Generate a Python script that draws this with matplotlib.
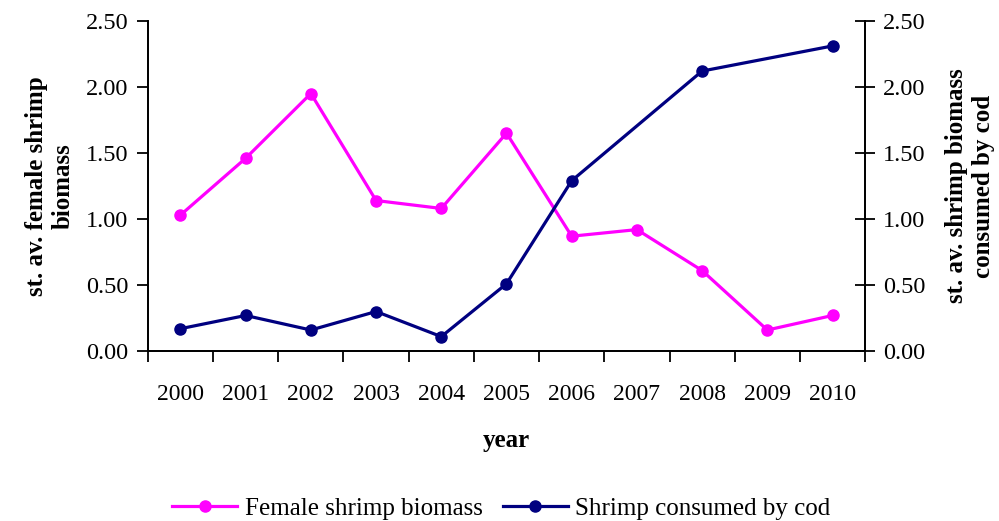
import numpy as np
import matplotlib
matplotlib.use("Agg")
import matplotlib.pyplot as plt

plt.rcParams['font.family'] = ['Liberation Serif', 'DejaVu Serif']

years = ['2000', '2001', '2002', '2003', '2004', '2005', '2006', '2007', '2008', '2009', '2010']
female_biomass = [1.03, 1.46, 1.95, 1.14, 1.08, 1.65, 0.87, 0.92, 0.61, 0.16, 0.27]
# 2007 and 2009 have no value for the cod series
consumed_by_cod = [0.17, 0.27, 0.16, 0.30, 0.11, 0.51, 1.29, np.nan, 2.12, np.nan, 2.31]

x = np.arange(len(years))
cod = np.array(consumed_by_cod)
ok = ~np.isnan(cod)

fig = plt.figure(figsize=(9.99, 5.21), dpi=100)
ax1 = fig.add_axes([0.148, 0.326, 0.718, 0.634])
ax2 = ax1.twinx()

l1, = ax1.plot(x, female_biomass, color='#FF00FF', lw=2.3, marker='o', ms=8,
               label='Female shrimp biomass', clip_on=False)
l2, = ax2.plot(x[ok], cod[ok], color='#000080', lw=2.3, marker='o', ms=8,
               label='Shrimp consumed by cod', clip_on=False)

for ax in (ax1, ax2):
    ax.set_ylim(0, 2.5)
    ax.set_yticks(np.arange(0, 2.51, 0.5))
    ax.set_xlim(-0.5, len(years) - 0.5)
    ax.spines['top'].set_visible(False)
    for s in ('left', 'right', 'bottom'):
        ax.spines[s].set_linewidth(1.3)

fmt = matplotlib.ticker.FormatStrFormatter('%.2f')
ax1.yaxis.set_major_formatter(fmt)
ax2.yaxis.set_major_formatter(fmt)
ax1.tick_params(axis='y', direction='out', length=8, width=1.3, labelsize=17.5, pad=6)
ax2.tick_params(axis='y', direction='inout', length=14, width=1.3, labelsize=17.5, pad=6)

# category ticks sit between the years, labels at the centres
ax1.set_xticks(np.arange(-0.5, len(years), 1.0))
ax1.set_xticklabels([])
ax1.set_xticks(x, minor=True)
ax1.set_xticklabels(years, minor=True, fontsize=17)
ax1.tick_params(axis='x', which='major', direction='out', length=8, width=1.3)
ax1.tick_params(axis='x', which='minor', length=0, pad=24)

ax1.set_xlabel('year', fontsize=18, fontweight='bold', labelpad=17)
ax1.set_ylabel('st. av. female shrimp\nbiomass', fontsize=18, fontweight='bold', labelpad=8)
ax2.set_ylabel('st. av. shrimp biomass\nconsumed by cod', fontsize=18, fontweight='bold', labelpad=14)

fig.legend(handles=[l1, l2], loc='lower center', bbox_to_anchor=(0.502, -0.022), ncol=2,
           frameon=False, fontsize=18, handlelength=2.6, handletextpad=0.3,
           columnspacing=0.8, borderaxespad=0.1)

plt.savefig('out.png', dpi=100)
